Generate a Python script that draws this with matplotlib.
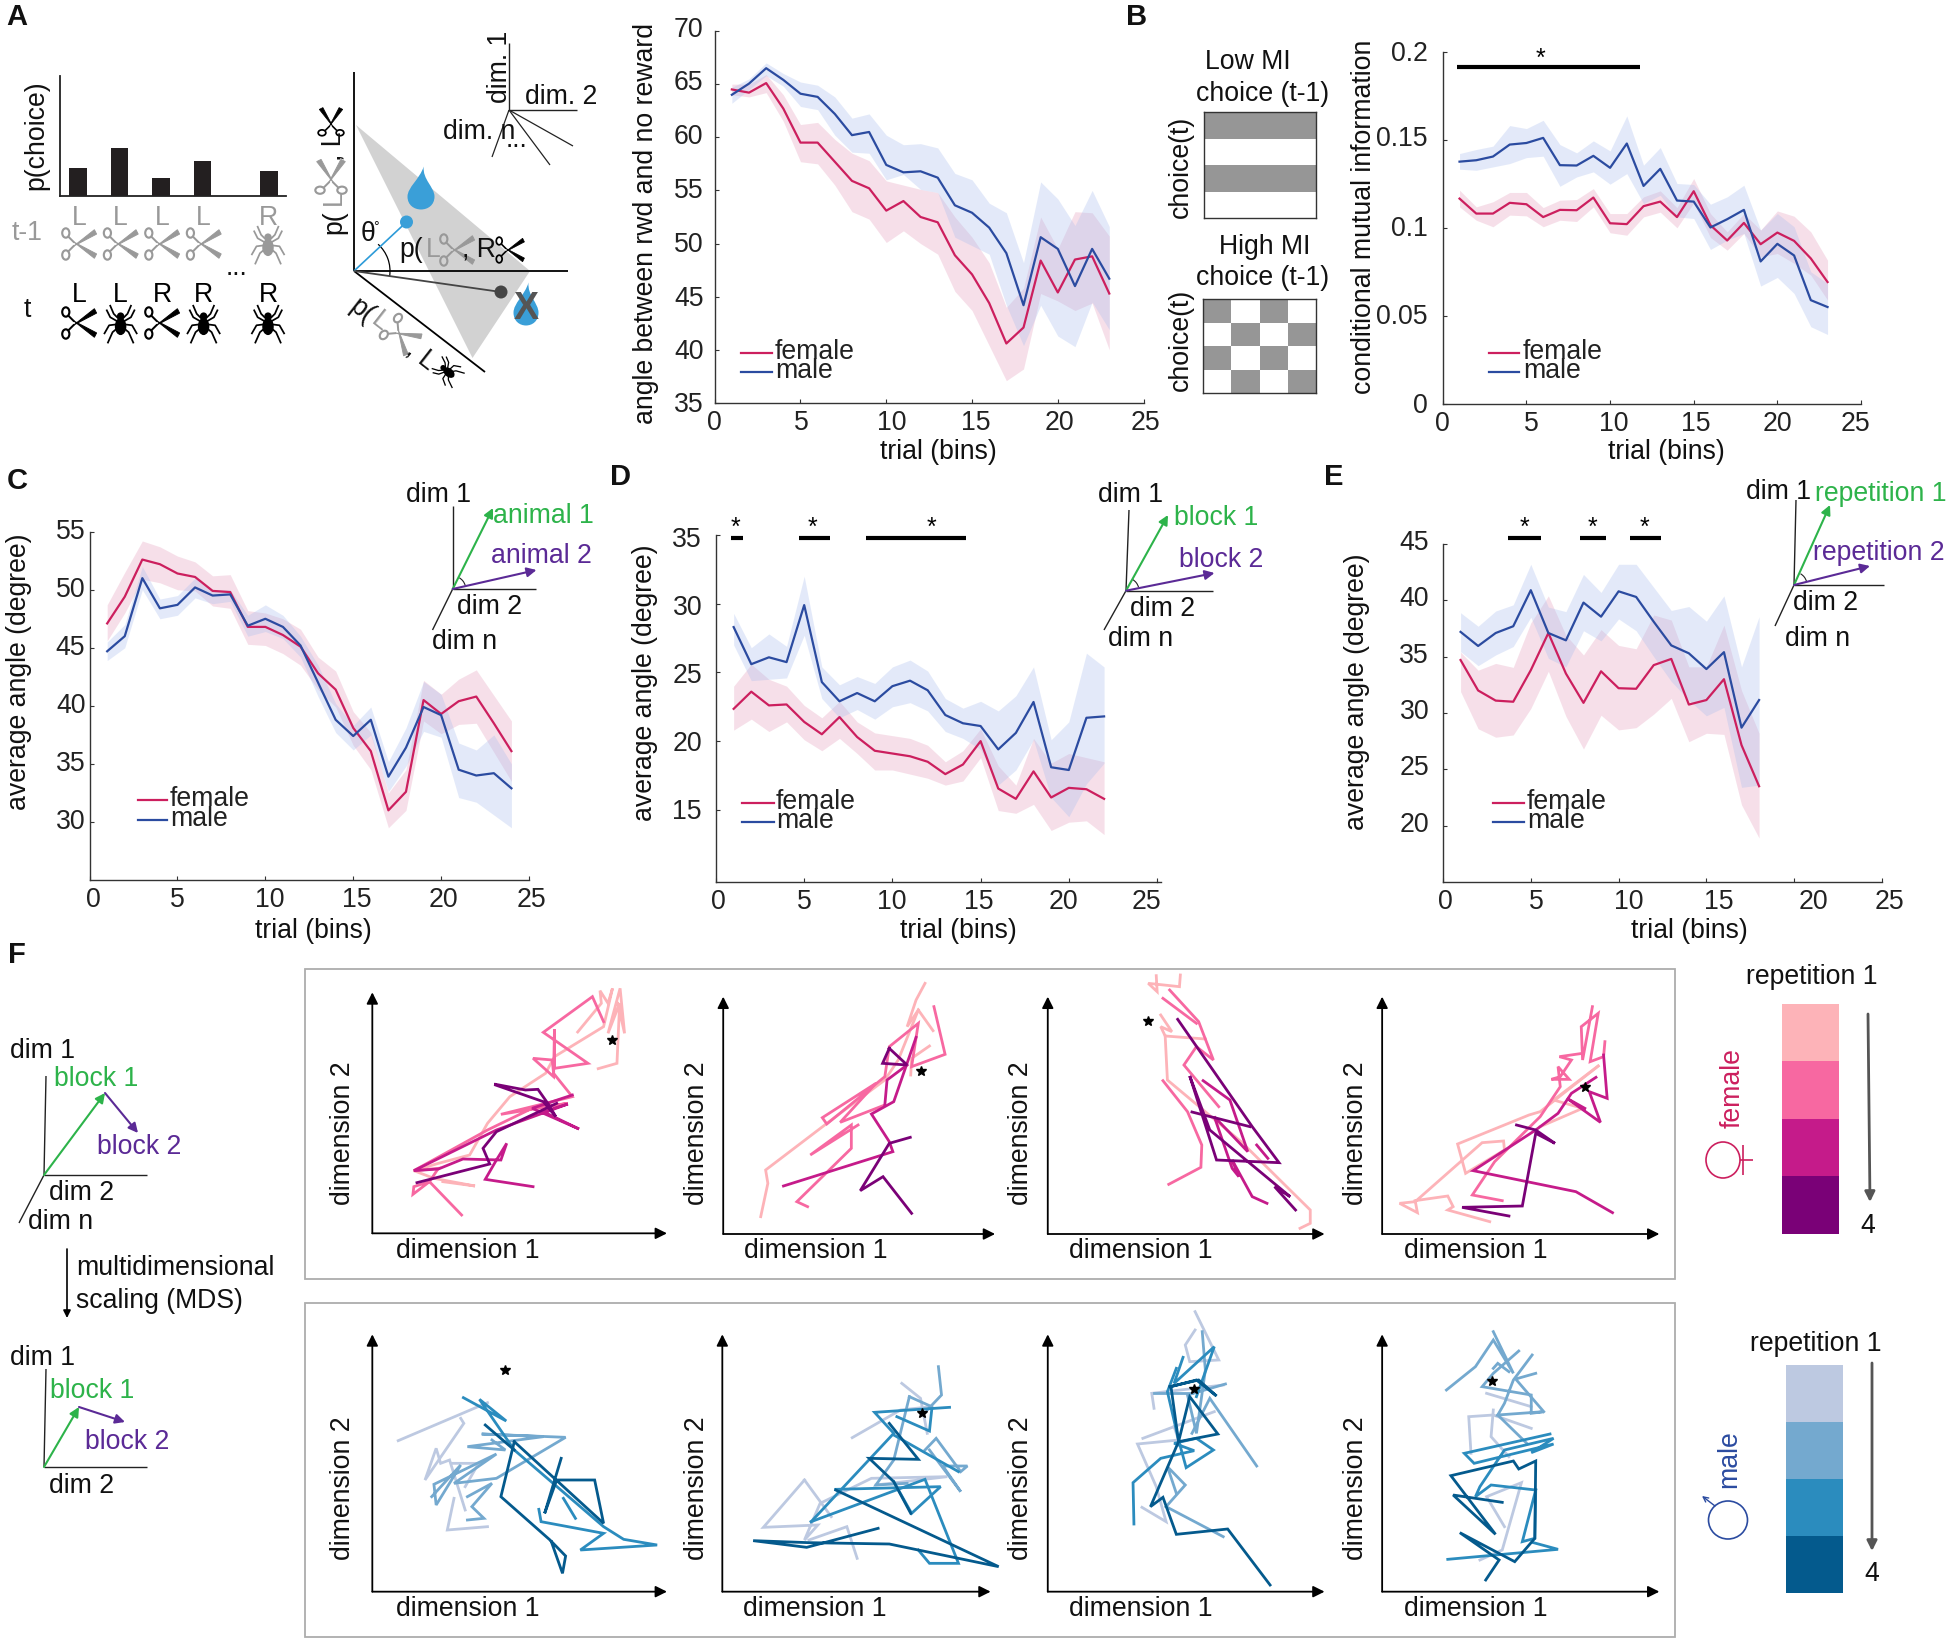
import numpy as np
import matplotlib
matplotlib.use("Agg")
import matplotlib.pyplot as plt
from matplotlib.patches import Polygon, Circle, Ellipse, Arc, PathPatch
from matplotlib.path import Path
from matplotlib.transforms import ScaledTranslation

plt.rcParams['font.family'] = ['Liberation Sans', 'DejaVu Sans']
W, H = 1950, 1643
FS = 19.2
FEMALE = '#CC1F5E'
MALE = '#2B4BA0'
GREEN = '#2DB34A'
PURPLE = '#5B2A96'
F_BAND = '#E7A3C0'
M_BAND = '#A9BDEE'
F_REP = ['#FDB3B8', '#F768A1', '#C51B8A', '#7A0177']
M_REP = ['#BDC9E1', '#74A9CF', '#2B8CBE', '#045A8D']

# panel A, bars
bar_pos = [1, 2, 3, 4, 5.6]
bar_val = [0.233, 0.40, 0.15, 0.29, 0.21]
bar_top = ['L', 'L', 'L', 'L', 'R']
bar_bot = ['L', 'L', 'R', 'R', 'R']

# panel A, angle
a_f = [64.5, 64.2, 65.1, 62.7, 59.5, 59.5, 57.7, 55.9, 55.2, 53.1, 54.0, 52.5, 52.0, 48.9, 47.1, 44.4, 40.6, 42.1, 48.4, 45.4, 48.5, 48.8, 45.3]
a_m = [64.0, 65.05, 66.5, 65.4, 64.1, 63.8, 62.2, 60.2, 60.5, 57.4, 56.7, 56.8, 56.2, 53.6, 52.9, 51.5, 49.1, 44.2, 50.6, 49.5, 46.0, 49.5, 46.7]
a_f_up = [65.0, 65.0, 65.9, 64.0, 61.2, 61.4, 59.8, 58.5, 57.8, 55.9, 55.5, 55.1, 54.8, 52.5, 50.6, 48.2, 44.0, 45.8, 52.5, 49.5, 53.0, 52.9, 50.7]
a_f_lo = [64.0, 63.8, 64.2, 61.5, 57.7, 57.5, 55.5, 53.0, 52.3, 50.1, 51.2, 50.0, 49.0, 45.5, 43.7, 40.4, 37.1, 38.2, 45.3, 44.6, 43.7, 44.4, 40.0]
a_m_up = [64.7, 65.5, 67.0, 66.0, 65.2, 64.9, 63.8, 61.8, 62.2, 60.2, 59.3, 59.4, 59.0, 56.6, 56.0, 53.8, 52.9, 48.2, 55.8, 54.2, 51.7, 55.0, 51.6]
a_m_lo = [63.2, 64.5, 65.8, 64.8, 62.9, 62.6, 60.2, 58.6, 58.5, 56.0, 56.5, 55.1, 54.8, 50.6, 49.8, 49.0, 44.2, 40.4, 44.2, 41.3, 40.3, 44.5, 41.9]

# panel B
b_f = [.1167, .1082, .1082, .1143, .1135, .1062, .1103, .1101, .1173, .1027, .1022, .1124, .1150, .1062, .1209, .1016, .0929, .1029, .0908, .0974, .0927, .0827, .0693]
b_m = [.1377, .1385, .1406, .1474, .1483, .1512, .1357, .1355, .1410, .1342, .1480, .1239, .1336, .1156, .1150, .1003, .1050, .1103, .0810, .0910, .0844, .0590, .0551]
b_f_up = [.1215, .1120, .1149, .1202, .1202, .1116, .1158, .1162, .1224, .1082, .1082, .1177, .1211, .1116, .1281, .1082, .0978, .1082, .0988, .1097, .1067, .0978, .0817]
b_f_lo = [.1120, .1044, .1007, .1073, .1069, .1007, .1044, .1037, .1120, .0973, .0959, .1063, .1090, .1001, .1143, .0946, .0874, .0969, .0836, .0855, .0799, .0732, .0591]
b_m_up = [.1423, .1446, .1465, .1582, .1565, .1612, .1474, .1427, .1495, .1438, .1637, .1357, .1457, .1253, .1247, .1135, .1177, .1243, .0988, .1082, .1007, .0751, .0685]
b_m_lo = [.1334, .1328, .1347, .1366, .1400, .1408, .1237, .1290, .1319, .1249, .1309, .1139, .1186, .1063, .1054, .0878, .0931, .0969, .0670, .0719, .0628, .0439, .0395]
mi_low = [[1, 1, 1, 1], [0, 0, 0, 0], [1, 1, 1, 1], [0, 0, 0, 0]]
mi_high = [[1, 0, 1, 0], [0, 1, 0, 1], [1, 0, 1, 0], [0, 1, 0, 1]]

# panel C
c_f = [47.1, 49.4, 52.6, 52.2, 51.4, 51.1, 49.9, 49.8, 46.8, 46.8, 46.1, 45.1, 42.8, 41.4, 38.1, 36.1, 31.0, 32.6, 40.5, 39.3, 40.4, 40.8, 38.5, 36.1]
c_m = [44.7, 46.0, 51.0, 48.4, 48.7, 50.2, 49.5, 49.6, 46.9, 47.5, 46.8, 45.2, 42.0, 38.8, 37.4, 38.8, 33.9, 36.4, 39.9, 39.2, 34.5, 34.0, 34.2, 32.9]
c_f_up = [48.7, 51.5, 54.2, 53.7, 52.9, 52.4, 51.2, 51.3, 48.2, 48.0, 47.5, 46.6, 44.2, 43.0, 39.5, 37.7, 32.5, 34.5, 42.2, 41.0, 42.3, 43.1, 40.9, 38.7]
c_f_lo = [45.6, 48.0, 50.9, 50.6, 50.0, 49.9, 48.6, 48.4, 45.3, 45.2, 44.5, 43.5, 41.4, 39.9, 36.6, 34.5, 29.5, 31.0, 38.7, 37.6, 38.4, 38.5, 36.0, 33.5]
c_m_up = [45.5, 47.0, 52.0, 49.2, 49.5, 51.0, 50.0, 50.0, 47.8, 48.7, 47.8, 46.0, 43.5, 40.2, 38.3, 39.9, 35.2, 38.1, 42.1, 41.0, 36.8, 36.2, 37.5, 35.0]
c_m_lo = [43.9, 45.0, 50.0, 47.5, 47.8, 49.3, 48.8, 49.0, 46.0, 46.4, 45.8, 44.2, 40.8, 37.7, 36.2, 37.5, 32.6, 34.8, 37.8, 37.3, 32.1, 31.7, 30.6, 29.5]

# panel D
d_f = [22.35, 23.6, 22.6, 22.67, 21.4, 20.5, 21.75, 20.3, 19.3, 19.1, 18.9, 18.5, 17.6, 18.3, 20.0, 16.55, 15.8, 17.8, 15.9, 16.6, 16.5, 15.8]
d_m = [28.3, 25.6, 26.1, 25.75, 29.9, 24.3, 22.9, 23.5, 22.9, 24.0, 24.4, 23.7, 21.9, 21.3, 21.1, 19.4, 20.6, 22.85, 18.1, 17.9, 21.7, 21.8]
d_f_up = [24.0, 25.6, 24.5, 24.0, 22.6, 21.7, 22.9, 21.4, 20.6, 20.4, 20.2, 19.7, 18.5, 19.3, 20.9, 18.2, 16.8, 20.2, 18.4, 19.1, 18.8, 18.5]
d_f_lo = [20.8, 21.6, 20.7, 21.4, 20.1, 19.3, 20.2, 19.1, 17.9, 17.9, 17.6, 17.3, 16.8, 17.1, 18.8, 14.95, 14.75, 15.4, 13.5, 14.1, 14.2, 13.2]
d_m_up = [29.3, 26.8, 27.8, 26.9, 32.0, 25.4, 24.1, 24.7, 24.2, 25.4, 25.9, 25.1, 23.1, 22.4, 22.9, 22.2, 23.3, 25.4, 20.1, 21.4, 26.4, 25.4]
d_m_lo = [27.0, 24.4, 24.5, 24.6, 27.7, 23.1, 21.7, 22.3, 21.6, 22.5, 22.8, 22.2, 20.7, 20.2, 19.4, 16.8, 17.9, 20.1, 15.9, 14.5, 16.9, 18.4]

# panel E
e_f = [34.7, 32.0, 31.1, 31.0, 33.8, 37.1, 33.5, 30.9, 33.7, 32.2, 32.15, 34.25, 34.8, 30.75, 31.15, 33.0, 27.15, 23.5]
e_m = [37.2, 35.95, 37.1, 37.7, 40.9, 37.1, 36.45, 39.8, 38.55, 40.8, 40.3, 38.1, 36.0, 35.3, 33.9, 35.4, 28.7, 31.15]
e_f_up = [35.4, 33.8, 34.4, 34.05, 38.0, 40.4, 36.9, 35.15, 37.4, 36.0, 35.7, 38.7, 38.25, 34.1, 34.1, 37.8, 32.0, 28.2]
e_f_lo = [31.9, 28.6, 27.85, 28.05, 30.4, 33.7, 29.7, 26.8, 29.8, 28.5, 28.7, 29.9, 31.3, 27.45, 28.2, 28.1, 21.85, 18.9]
e_m_up = [38.9, 37.7, 39.05, 39.6, 43.2, 39.4, 39.0, 42.3, 40.7, 43.2, 43.2, 41.15, 39.1, 39.45, 38.15, 40.4, 34.1, 38.55]
e_m_lo = [35.45, 34.2, 35.15, 35.9, 38.5, 34.85, 34.1, 37.3, 36.4, 38.35, 37.3, 35.0, 32.8, 31.15, 29.75, 30.5, 23.4, 23.6]

# significance bars (from, to) in trial bins
b_sig = [(0.82, 11.8)]
d_sig = [(0.83, 1.52), (4.72, 6.44), (8.53, 14.2)]
e_sig = [(3.7, 5.6), (7.8, 9.3), (10.67, 12.44)]

# panel F, MDS trajectories, one list of polylines per repetition
f1_r1 = [[(622, 216), (675, 130), (672, 92), (690, 130), (700, 85), (680, 200), (570, 290), (550, 340), (470, 410), (420, 490), (380, 585), (310, 610), (255, 632), (300, 655), (392, 678), (320, 665)],
         [(668, 326), (710, 310), (716, 130), (690, 220), (717, 85), (727, 220), (712, 130)]]
f1_r2 = [[(680, 185), (655, 110), (545, 217), (645, 310), (570, 325), (570, 208), (568, 350), (522, 295), (565, 300), (568, 340), (610, 410), (450, 463), (600, 430), (520, 445), (420, 510), (255, 632), (310, 625), (290, 665), (255, 680), (253, 703), (290, 665), (362, 765)]]
f1_r3 = [[(610, 405), (520, 445), (625, 507), (545, 455), (600, 432), (440, 510), (255, 632), (310, 627), (365, 597), (450, 600), (463, 550), (440, 600), (415, 658), (522, 680)]]
f1_r4 = [[(438, 373), (505, 390), (533, 388), (555, 430), (573, 470), (545, 425), (438, 375)],
         [(575, 430), (440, 515), (410, 565), (425, 612), (262, 668)]]
f2_r1 = [[(1400, 70), (1380, 120), (1360, 200), (1385, 150), (1418, 212)],
         [(1410, 258), (1370, 295), (1368, 345)],
         [(1385, 150), (1340, 300), (1310, 360), (1200, 470), (1043, 630), (1048, 670), (1032, 770)]]
f2_r2 = [[(1420, 140), (1445, 283), (1370, 320), (1385, 190), (1320, 260), (1310, 350), (1180, 492), (1170, 473), (1290, 370), (1210, 487), (1310, 435)],
         [(1250, 495), (1143, 585), (1235, 495), (1235, 565), (1113, 725), (1137, 740)]]
f2_r3 = [[(1380, 232), (1330, 425), (1280, 462), (1320, 545), (1328, 575), (1083, 678)],
         [(1310, 435), (1315, 360), (1360, 315)]]
f2_r4 = [[(1320, 265), (1305, 310), (1360, 315), (1320, 265)],
         [(1367, 532), (1320, 550), (1255, 692), (1306, 650), (1370, 760)]]
f3_r1 = [[(350, 47), (352, 95), (332, 70), (402, 80), (404, 45)],
         [(360, 165), (385, 215), (360, 200), (370, 228), (460, 237)],
         [(370, 228), (375, 360), (540, 545), (695, 750), (695, 790), (672, 805)]]
f3_r2 = [[(380, 90), (445, 185), (478, 300), (440, 260), (412, 315), (490, 440)],
         [(365, 115), (440, 190)],
         [(365, 362), (420, 455), (452, 555), (450, 622), (378, 673)]]
f3_r3 = [[(455, 362), (515, 420), (555, 575), (480, 470), (520, 625), (535, 650), (520, 600), (565, 710), (598, 730)],
         [(575, 555), (600, 595)]]
f3_r4 = [[(398, 178), (565, 500), (625, 608), (485, 600), (425, 348), (470, 510), (650, 710), (615, 680), (662, 750)],
         [(430, 456), (560, 500)]]
f4_r1 = [[(1340, 318), (1210, 455), (1185, 465), (1025, 552), (1043, 640), (1130, 570), (1128, 543), (1080, 548), (930, 725), (895, 730), (935, 758), (930, 722), (1003, 708), (1015, 740), (1003, 750), (1097, 785)],
         [(1210, 500), (1305, 445), (1240, 420), (1340, 318)]]
f4_r2 = [[(1327, 140), (1305, 300), (1302, 200), (1340, 160), (1322, 305), (1352, 290), (1355, 245)],
         [(1305, 280), (1253, 290), (1280, 300), (1255, 350), (1235, 358), (1275, 358), (1250, 320), (1255, 380), (1210, 470), (1108, 605), (1058, 705), (1125, 722)]]
f4_r3 = [[(1352, 285), (1360, 415), (1320, 395), (1345, 487), (1270, 415), (1310, 445)],
         [(1335, 352), (1280, 400), (1250, 460), (1200, 510), (1060, 632), (1290, 695), (1372, 758)]]
f4_r4 = [[(1157, 495), (1200, 510), (1243, 550), (1200, 520), (1170, 738), (1035, 742), (1140, 768)]]

m1_r1 = [[(220, 422), (420, 308)],
         [(360, 355), (367, 370), (280, 540), (305, 445), (315, 490), (335, 480), (370, 630)],
         [(345, 595), (330, 690), (420, 680)],
         [(340, 490), (400, 490), (370, 560)]]
m1_r2 = [[(295, 590), (360, 495), (305, 615), (300, 553), (440, 462), (345, 550), (440, 535), (595, 412), (407, 402), (545, 410), (375, 440), (460, 450), (430, 420)],
         [(375, 660), (412, 655), (385, 620), (430, 550), (375, 590)]]
m1_r3 = [[(366, 293), (462, 363), (402, 298), (480, 450), (680, 680), (725, 718), (800, 735), (628, 750), (680, 700), (540, 665), (535, 628)],
         [(590, 595), (617, 655)]]
m1_r4 = [[(415, 375), (480, 450)],
         [(480, 425), (680, 670), (660, 540), (575, 540), (548, 640), (585, 475)],
         [(480, 425), (450, 590), (560, 720), (595, 768), (588, 820), (563, 725)]]
m2_r1 = [[(1237, 413), (1345, 330), (1415, 320)],
         [(1348, 250), (1390, 295), (1405, 400)],
         [(1130, 540), (1038, 682), (1160, 675), (1130, 720), (1165, 610), (1280, 535), (1450, 530), (1290, 555)],
         [(1140, 720), (1225, 680), (1248, 775)],
         [(1130, 540), (1190, 650)]]
m2_r2 = [[(1430, 200), (1437, 285), (1405, 330)],
         [(1365, 290), (1415, 320)],
         [(1365, 290), (1330, 480), (1290, 555), (1360, 550)],
         [(1400, 450), (1425, 415), (1480, 515), (1495, 498), (1440, 498), (1480, 575), (1410, 450)]]
m2_r3 = [[(1455, 322), (1287, 337), (1330, 400), (1145, 665)],
         [(1330, 405), (1475, 515)],
         [(1145, 665), (1400, 538), (1475, 790), (1410, 790), (1385, 750)],
         [(1337, 350), (1410, 393), (1415, 330)],
         [(1200, 568), (1435, 560), (1370, 640), (1330, 545)]]
m2_r4 = [[(1320, 370), (1385, 478), (1275, 475), (1330, 545), (1368, 640)],
         [(1200, 570), (1565, 800), (1320, 732), (1140, 728), (1015, 722), (1135, 742), (1295, 685)]]
m3_r1 = [[(437, 35), (490, 180), (425, 185), (415, 135), (437, 90)],
         [(345, 325), (340, 280), (500, 255)],
         [(320, 415), (390, 380), (400, 420), (308, 432), (350, 560), (372, 665), (318, 622)],
         [(480, 335), (390, 380)]]
m3_r2 = [[(453, 95), (460, 210), (440, 400), (420, 285), (505, 252)],
         [(575, 498), (470, 295), (430, 400)],
         [(372, 620), (415, 555), (375, 500), (395, 580)],
         [(372, 620), (500, 710)],
         [(345, 280), (430, 280)]]
m3_r3 = [[(300, 672), (298, 548), (360, 475), (435, 452), (390, 430), (440, 415), (478, 450), (417, 503), (400, 420), (375, 275), (395, 205)],
         [(410, 172), (390, 250), (480, 140), (440, 290)]]
m3_r4 = [[(380, 260), (445, 240), (485, 288), (440, 240), (383, 260), (400, 425), (488, 402), (425, 290), (400, 425), (337, 620), (365, 592), (395, 703), (510, 687), (605, 855)]]
m4_r1 = [[(1190, 385), (1105, 345), (1050, 350), (1055, 460)],
         [(1090, 280), (1190, 320)],
         [(1130, 680), (1090, 590), (1168, 548), (1125, 750), (1075, 780)],
         [(1105, 330), (1100, 410), (1140, 470)]]
m4_r2 = [[(1000, 270), (1065, 200), (1105, 120), (1150, 220), (1105, 95)],
         [(1162, 153), (1105, 220), (1080, 260), (1190, 285), (1190, 340), (1218, 335), (1115, 345), (1130, 310), (1150, 240), (1192, 165)],
         [(1115, 345), (1180, 430)],
         [(1200, 220), (1155, 237), (1218, 335)],
         [(1105, 205), (1115, 190), (1140, 215)]]
m4_r3 = [[(1232, 402), (1040, 460), (1062, 490), (1240, 432), (1190, 458), (1240, 415), (1130, 450), (1075, 560), (1065, 590), (1100, 555), (1200, 570), (1170, 725), (1198, 715), (1200, 570)],
         [(1003, 778), (1250, 748), (1195, 728)]]
m4_r4 = [[(1125, 607), (1015, 585), (1110, 703), (1010, 527), (1150, 483), (1162, 507), (1200, 483), (1198, 715), (1153, 785), (1030, 698), (1118, 780), (1088, 840)]]
star_top = [(698, 240), (1392, 332), (331, 184), (1310, 380)]
star_bot = [(460, 210), (1393, 338), (434, 267), (1103, 244)]


def px_axes(x0, y0, x1, y1):
    return fig.add_axes([x0 / W, 1 - y1 / H, (x1 - x0) / W, (y1 - y0) / H])


def curve_panel(box, ylim, yticks, data, ylabels=None, ypad=8):
    ax = px_axes(*box)
    f, m, f_up, f_lo, m_up, m_lo = data
    xf = np.arange(1, len(f) + 1)
    ax.fill_between(xf, f_lo, f_up, color=F_BAND, alpha=0.34, lw=0)
    ax.fill_between(xf, m_lo, m_up, color=M_BAND, alpha=0.32, lw=0)
    ax.plot(xf, f, color=FEMALE, lw=1.6)
    ax.plot(xf, m, color=MALE, lw=1.6)
    ax.set_xlim(0, 25)
    ax.set_ylim(*ylim)
    ax.set_xticks(range(0, 26, 5))
    ax.set_yticks(yticks)
    if ylabels:
        ax.set_yticklabels(ylabels)
    for s in ['top', 'right']:
        ax.spines[s].set_visible(False)
    for s in ['left', 'bottom']:
        ax.spines[s].set_color('#333333')
        ax.spines[s].set_linewidth(1.0)
    ax.tick_params(direction='in', length=3, width=0.8, labelsize=FS, color='#333333', labelcolor='#222222', pad=5)
    ax.tick_params(axis='y', pad=ypad)
    ax.patch.set_alpha(0)
    return ax


def nudge_ticks(ax, xdx, ydy):
    # the reference has its tick labels placed by hand, slightly off the ticks
    for tick, dx in zip(ax.xaxis.get_major_ticks(), xdx):
        tick.label1.set_transform(tick.label1.get_transform() + ScaledTranslation(dx / 100, 0, fig.dpi_scale_trans))
    for tick, dy in zip(ax.yaxis.get_major_ticks(), ydy):
        tick.label1.set_transform(tick.label1.get_transform() + ScaledTranslation(0, -dy / 100, fig.dpi_scale_trans))


def sig_bars(ax, spans, y, star_x, star_y):
    for a, b in spans:
        ax.plot([a, b], [y, y], color='k', lw=3, solid_capstyle='butt', clip_on=False)
    for sx in star_x:
        ax.text(sx, star_y, '*', fontsize=18, ha='center', va='center', clip_on=False)


def legend_at(x0, x1, x_text, y_f, y_m):
    ov.plot([x0, x1], [y_f, y_f], color=FEMALE, lw=1.6)
    ov.plot([x0, x1], [y_m, y_m], color=MALE, lw=1.6)
    ov.text(x_text, y_f - 1, 'female', fontsize=FS, ha='left', va='center', color='#222222')
    ov.text(x_text, y_m - 1, 'male', fontsize=FS, ha='left', va='center', color='#222222')


def label(x, y, s, color='#111111', rot=0, fs=FS, ha='center'):
    # centred text sits a little high and left of the reference's baseline
    if rot == 90:
        x += 3
    elif rot == 0:
        y += 2
    ov.text(x, y, s, fontsize=fs, color=color, rotation=rot, ha=ha, va='center', rotation_mode='anchor')


def arrow(a, start, end, color='k', lw=1.5, ms=14, style='-|>'):
    a.annotate('', xy=end, xytext=start,
               arrowprops=dict(arrowstyle=style, color=color, lw=lw, mutation_scale=ms, shrinkA=0, shrinkB=0))


def line(pts, color='#222222', lw=1.0):
    xs, ys = zip(*pts)
    ov.plot(xs, ys, color=color, lw=lw, solid_capstyle='butt')


def inset(origin, up, right, dimn, end1, end2, color1=GREEN, color2=PURPLE):
    line([origin, up])
    line([origin, right])
    line([origin, dimn])
    arrow(ov, origin, end1, color1)
    arrow(ov, origin, end2, color2)
    ov.add_patch(Arc(origin, 26, 26, theta1=-60, theta2=-15, color='#222222', lw=0.8))


def rot_pts(pts, cx, cy, rot, s):
    t = np.deg2rad(rot)
    out = []
    for x, y in pts:
        out.append((cx + s * (x * np.cos(t) - y * np.sin(t)), cy + s * (x * np.sin(t) + y * np.cos(t))))
    return out


def scissors(cx, cy, color='k', rot=0, s=1.1):
    for sign in (1, -1):
        blade = rot_pts([(-5, sign * 2), (14, -sign * 13), (16, -sign * 9)], cx, cy, rot, s)
        ov.add_patch(Polygon(blade, fc=color, ec=color, lw=0.6 * s))
        shank = rot_pts([(-5, sign * 2), (-9, sign * 6)], cx, cy, rot, s)
        xs, ys = zip(*shank)
        ov.plot(xs, ys, color=color, lw=1.3 * s)
        c = rot_pts([(-12, sign * 10)], cx, cy, rot, s)[0]
        ov.add_patch(Ellipse(c, 6.5 * s, 8.5 * s, angle=rot, fc='none', ec=color, lw=1.4 * s))


def spider(cx, cy, color='k', rot=0, s=1.15):
    legs = [[(1, -3), (6, -8), (9, -15)], [(2, -1), (9, -5), (12, -11)],
            [(2, 1), (10, 2), (14, 9)], [(1, 3), (7, 8), (11, 17)]]
    for leg in legs:
        for sign in (1, -1):
            xs, ys = zip(*rot_pts([(sign * x, y) for x, y in leg], cx, cy, rot, s))
            ov.plot(xs, ys, color=color, lw=1.1 * s)
    c = rot_pts([(0, 3)], cx, cy, rot, s)[0]
    ov.add_patch(Ellipse(c, 10 * s, 15 * s, angle=rot, fc=color, ec='none'))
    c = rot_pts([(0, -6)], cx, cy, rot, s)[0]
    ov.add_patch(Circle(c, 3.2 * s, fc=color, ec='none'))


def drop(cx, cy, w, h, color='#3A9FD8'):
    verts = [(cx + 0.1 * w, cy - h / 2), (cx - 0.05 * w, cy - 0.2 * h), (cx - w / 2, cy - 0.02 * h), (cx - w / 2, cy + 0.2 * h),
             (cx - w / 2, cy + 0.4 * h), (cx - 0.25 * w, cy + h / 2), (cx, cy + h / 2),
             (cx + 0.25 * w, cy + h / 2), (cx + w / 2, cy + 0.4 * h), (cx + w / 2, cy + 0.2 * h),
             (cx + w / 2, cy - 0.02 * h), (cx + 0.05 * w, cy - 0.2 * h), (cx + 0.1 * w, cy - h / 2)]
    codes = [Path.MOVETO] + [Path.CURVE4] * 12
    ov.add_patch(PathPatch(Path(verts, codes), fc=color, ec='none'))


def crop_axes(x0, y0, w, h):
    ax = px_axes(x0, y0, x0 + w, y0 + h)
    ax.set_xlim(0, 1568)
    ax.set_ylim(h * 3, 0)
    ax.axis('off')
    ax.patch.set_alpha(0)
    return ax


def mds_panel(ax, reps, colors, star, origin, top, right, x1_lab, lab_y, x2_lab, y2_lab):
    for rep, col in zip(reps, colors):
        for seg in rep:
            xs, ys = zip(*seg)
            ax.plot(xs, ys, color=col, lw=2.0, clip_on=False, solid_joinstyle='miter')
    ax.plot([star[0]], [star[1]], marker='*', color='k', ms=7.5, clip_on=False)
    arrow(ax, origin, top, 'k', 1.3, 17)
    arrow(ax, origin, right, 'k', 1.3, 17)
    ax.text(x1_lab, lab_y + 6, 'dimension 1', fontsize=FS, ha='center', va='center', color='#111111')
    ax.text(x2_lab + 7, y2_lab, 'dimension 2', fontsize=FS, ha='center', va='center', rotation=90, color='#111111')


fig = plt.figure(figsize=(W / 100, H / 100), dpi=100)

# overlay in reference pixels, for schematics and free text
ov = fig.add_axes([0, 0, 1, 1], zorder=5)
ov.set_xlim(0, W)
ov.set_ylim(H, 0)
ov.axis('off')
ov.patch.set_alpha(0)

# panel letters
for x, y, s in [(17, 17, 'A'), (1137, 17, 'B'), (17, 481, 'C'), (620, 477, 'D'), (1334, 477, 'E'), (17, 955, 'F')]:
    ov.text(x, y, s, fontsize=21, ha='center', va='center', fontweight='bold', color='#111111')

# A, p(choice) bars
ax0 = px_axes(60, 76, 285.5, 196)
ax0.bar(bar_pos, bar_val, width=0.43, color='#231F20')
ax0.set_xlim(0.566, 6.0)
ax0.set_ylim(0, 1)
ax0.set_xticks([])
ax0.set_yticks([])
for s in ['top', 'right']:
    ax0.spines[s].set_visible(False)
for s in ['left', 'bottom']:
    ax0.spines[s].set_color('#222222')
    ax0.spines[s].set_linewidth(1.3)
label(33, 135, 'p(choice)', rot=90)
label(27, 231, 't-1', '#999999')
label(27, 308, 't')
label(237, 266, '...')
xc = [79, 120.6, 162, 203.6, 268]
for i, x in enumerate(xc):
    label(x, 216, bar_top[i], '#999999')
    if bar_top[i] == 'L':
        scissors(x, 244, '#999999')
    else:
        spider(x, 244, '#999999')
    label(x, 293, bar_bot[i], 'k')
    if i in (0, 2):
        scissors(x, 323, 'k')
    else:
        spider(x, 323, 'k')

# A, reward space
ov.add_patch(Polygon([(356, 125), (530, 271), (472.5, 358)], fc='#D2D2D2', ec='none'))
line([(354, 72), (354, 271)], 'k', 1.3)
line([(354, 271), (568, 271)], 'k', 1.3)
line([(354, 271), (485, 372)], 'k', 1.3)
line([(354, 271), (406.5, 222)], '#2D9BD8', 1.2)
ov.add_patch(Circle((406.5, 222), 6.5, fc='#3A9FD8', ec='none', zorder=4))
line([(354, 271), (501, 292)], '#444444', 1.3)
ov.add_patch(Circle((501, 292), 6.5, fc='#444444', ec='none', zorder=4))
drop(421, 188, 27, 43)
drop(526, 304, 25, 43)
ov.text(526, 309, 'X', fontsize=27, fontweight='bold', color='#555555', ha='center', va='center')
ov.add_patch(Arc((354, 271), 72, 72, theta1=-48, theta2=8, color='k', lw=0.9))
label(368, 232, 'θ')
label(376, 225, '°', fs=10)
label(331, 222, 'p(', rot=90)
label(331, 198, 'L', '#999999', rot=90)
scissors(331, 177, '#999999', rot=-90)
label(331, 146, ', L', rot=90)
scissors(331, 122, 'k', rot=-90, s=0.9)
label(411, 248, 'p(')
label(433, 248, 'L', '#999999')
scissors(457, 250, '#999999')
label(479, 248, ', R')
scissors(510, 250, 'k', s=0.9)
label(362, 311, 'p(', rot=-38)
label(380, 322, 'L', '#999999', rot=-38)
scissors(401, 335, '#999999', rot=40)
label(421, 356, ', L', rot=-38)
spider(447, 371, 'k', rot=-50, s=0.85)
line([(509, 110), (509, 43)])
line([(509, 110), (577, 110)])
line([(509, 110), (573, 146)], '#222222', 0.9)
line([(509, 110), (550, 165)], '#222222', 0.9)
line([(509, 110), (492, 157)], '#222222', 0.9)
label(497, 67, 'dim. 1', rot=90)
label(561, 95, 'dim. 2')
label(479, 130, 'dim. n')
label(516, 138, '...')

# A, angle curve
ax1 = curve_panel((714.7, 31, 1143.6, 403), (35, 70), range(35, 71, 5), [a_f, a_m, a_f_up, a_f_lo, a_m_up, a_m_lo], ypad=8)
nudge_ticks(ax1, [0, 1, 5, 4, 2, 2], [-1, -1, -1, -2, -2, -3, -4, -4])
label(643, 223, 'angle between rwd and no reward', rot=90)
label(938, 450, 'trial (bins)')
legend_at(741, 772, 775, 353, 372)

# B, example tables
for mat, box in [(mi_low, (1204, 112, 1316, 218)), (mi_high, (1203, 299, 1316, 393))]:
    axg = px_axes(*box)
    axg.pcolormesh(np.array(mat)[::-1], cmap=matplotlib.colors.ListedColormap(['white', '#969696']))
    axg.set_xticks([])
    axg.set_yticks([])
    for sp in axg.spines.values():
        sp.set_linewidth(1.0)
        sp.set_color('#333333')
label(1248, 60, 'Low MI')
label(1263, 92, 'choice (t-1)')
label(1265, 245, 'High MI')
label(1263, 276, 'choice (t-1)')
label(1178, 167, 'choice(t)', rot=90)
label(1178, 340, 'choice(t)', rot=90)

# B, mutual information curve
ax2 = curve_panel((1442.8, 52, 1861, 404), (0, 0.2), [0, 0.05, 0.1, 0.15, 0.2],
                  [b_f, b_m, b_f_up, b_f_lo, b_m_up, b_m_lo], ['0', '0.05', '0.1', '0.15', '0.2'], ypad=11)
nudge_ticks(ax2, [0, 5, 4, 2, 0, -5], [-1, -2, -2, -4, -1])
sig_bars(ax2, b_sig, 0.1915, [5.85], 0.196)
label(1361, 217, 'conditional mutual information', rot=90)
label(1666, 450, 'trial (bins)')
legend_at(1488.5, 1519, 1523, 353, 372)

# C
ax3 = curve_panel((89.6, 531.7, 529, 880), (25, 55), range(30, 56, 5), [c_f, c_m, c_f_up, c_f_lo, c_m_up, c_m_lo], ypad=3)
nudge_ticks(ax3, [4, 0, 4, 4, 2, 2], [-3, -3, -3, -3, -3, -3])
label(16, 672, 'average angle (degree)', rot=90)
label(313, 929, 'trial (bins)')
legend_at(138, 166.5, 170, 800, 820)
inset((452.7, 589), (452.7, 506), (536, 589), (432.5, 630), (493, 508), (536.5, 570))
label(438, 493, 'dim 1')
label(543, 514, 'animal 1', GREEN)
label(541, 554, 'animal 2', PURPLE)
label(490, 605, 'dim 2')
label(465, 640, 'dim n')

# D
ax4 = curve_panel((716, 535, 1157, 882), (9.75, 35), range(15, 36, 5), [d_f, d_m, d_f_up, d_f_lo, d_m_up, d_m_lo], ypad=10)
nudge_ticks(ax4, [2, 0, -1, -2, -5, -10], [-1, 0, 1, 1, 2])
ax4.plot([25, 25.25], [9.75, 9.75], color='#333333', lw=1.0, clip_on=False)
sig_bars(ax4, d_sig, 34.78, [1.13, 5.45, 12.2], 35.55)
label(642, 683, 'average angle (degree)', rot=90)
label(958, 929, 'trial (bins)')
legend_at(742, 773.5, 776, 803, 822)
inset((1126, 590.7), (1129, 510), (1212.8, 590.7), (1104, 630), (1168, 515), (1214.5, 573))
label(1130, 493, 'dim 1')
label(1216, 516, 'block 1', GREEN)
label(1221, 558, 'block 2', PURPLE)
label(1162.5, 607, 'dim 2')
label(1141, 637, 'dim n')

# E
ax5 = curve_panel((1443, 544, 1882, 882), (15, 45), range(20, 46, 5), [e_f, e_m, e_f_up, e_f_lo, e_m_up, e_m_lo], ypad=10)
nudge_ticks(ax5, [2, 6, 10, 12, 19, 7], [-4, -4, -4, -4, -4, -4])
sig_bars(ax5, e_sig, 45.5, [4.64, 8.54, 11.5], 46.4)
label(1354, 692, 'average angle (degree)', rot=90)
label(1689, 929, 'trial (bins)')
legend_at(1493, 1523.6, 1527, 803, 822)
inset((1794, 585), (1796, 500), (1884, 585), (1775, 626), (1830, 505), (1870, 566))
label(1779, 490, 'dim 1')
label(1881, 492, 'repetition 1', GREEN)
label(1879, 551, 'repetition 2', PURPLE)
label(1826, 601, 'dim 2')
label(1818, 637, 'dim n')

# F, left schematics
line([(44, 1175), (46, 1076)])
line([(44, 1175), (147, 1175)])
line([(44, 1175), (19, 1223)])
arrow(ov, (44, 1175), (105, 1093), GREEN)
arrow(ov, (105, 1093), (138, 1133), PURPLE)
label(43, 1049, 'dim 1')
label(96, 1077, 'block 1', GREEN)
label(139, 1145, 'block 2', PURPLE)
label(82, 1191, 'dim 2')
label(61, 1220, 'dim n')
arrow(ov, (67, 1249), (67, 1318), 'k', 1.2, 11)
label(76, 1266, 'multidimensional', ha='left')
label(76, 1299, 'scaling (MDS)', ha='left')
line([(46, 1369), (44, 1467)])
line([(44, 1467), (147, 1467)])
arrow(ov, (44, 1467), (79, 1407), GREEN)
arrow(ov, (79, 1407), (125, 1422), PURPLE)
label(43, 1356, 'dim 1')
label(92, 1389, 'block 1', GREEN)
label(127, 1440, 'block 2', PURPLE)
label(82, 1484, 'dim 2')

# F, boxes
for y0, y1 in [(969, 1279), (1303, 1637)]:
    ov.add_patch(plt.Rectangle((304.5, y0), 1675 - 304.5, y1 - y0, fc='none', ec='#ADADAD', lw=1.3))

# F, trajectories
top_l = crop_axes(300, 960, 700, 330)
top_r = crop_axes(1000, 960, 700, 330)
bot_l = crop_axes(300, 1300, 700, 340)
bot_r = crop_axes(1000, 1300, 700, 340)
mds_panel(top_l, [f1_r1, f1_r2, f1_r3, f1_r4], F_REP, star_top[0], (162, 820), (162, 97), (822, 820), 375, 868, 90, 520)
mds_panel(top_l, [f2_r1, f2_r2, f2_r3, f2_r4], F_REP, star_top[1], (948, 822), (948, 110), (1557, 822), 1155, 868, 883, 520)
mds_panel(top_r, [f3_r1, f3_r2, f3_r3, f3_r4], F_REP, star_top[2], (107, 822), (107, 110), (727, 822), 315, 868, 40, 520)
mds_panel(top_r, [f4_r1, f4_r2, f4_r3, f4_r4], F_REP, star_top[3], (856, 822), (856, 110), (1477, 822), 1065, 868, 790, 520)
mds_panel(bot_l, [m1_r1, m1_r2, m1_r3, m1_r4], M_REP, star_bot[0], (162, 875), (162, 103), (822, 875), 375, 922, 90, 565)
mds_panel(bot_l, [m2_r1, m2_r2, m2_r3, m2_r4], M_REP, star_bot[1], (946, 875), (946, 103), (1547, 875), 1153, 922, 883, 565)
mds_panel(bot_r, [m3_r1, m3_r2, m3_r3, m3_r4], M_REP, star_bot[2], (107, 875), (107, 103), (727, 875), 315, 922, 40, 565)
mds_panel(bot_r, [m4_r1, m4_r2, m4_r3, m4_r4], M_REP, star_bot[3], (856, 875), (856, 103), (1477, 875), 1065, 922, 790, 565)

# F, repetition colour keys
for cols, box in [(F_REP, (1782, 1004, 1839, 1233.6)), (M_REP, (1786, 1365, 1843, 1593))]:
    axk = px_axes(*box)
    axk.imshow(np.arange(4).reshape(4, 1), cmap=matplotlib.colors.ListedColormap(cols), aspect='auto')
    axk.axis('off')
label(1812, 975, 'repetition 1')
label(1816, 1342, 'repetition 1')
arrow(ov, (1868, 1014), (1870, 1202), '#555555', 2.0, 15)
arrow(ov, (1872, 1363), (1872, 1551), '#555555', 2.0, 15)
label(1868, 1224, '4')
label(1872, 1572, '4')
label(1730, 1088, 'female', FEMALE, rot=90)
label(1726, 1459, 'male', MALE, rot=90)
ov.add_patch(Ellipse((1723, 1160), 34, 36, fc='none', ec=FEMALE, lw=1.2))
line([(1740, 1160), (1753, 1160)], FEMALE, 1.2)
line([(1743, 1145), (1743, 1175)], FEMALE, 1.2)
ov.add_patch(Ellipse((1728, 1520), 39, 38, fc='none', ec=MALE, lw=1.2))
arrow(ov, (1715, 1506), (1702, 1496), MALE, 1.0, 9, '->')

fig.savefig('out.png', dpi=100)
